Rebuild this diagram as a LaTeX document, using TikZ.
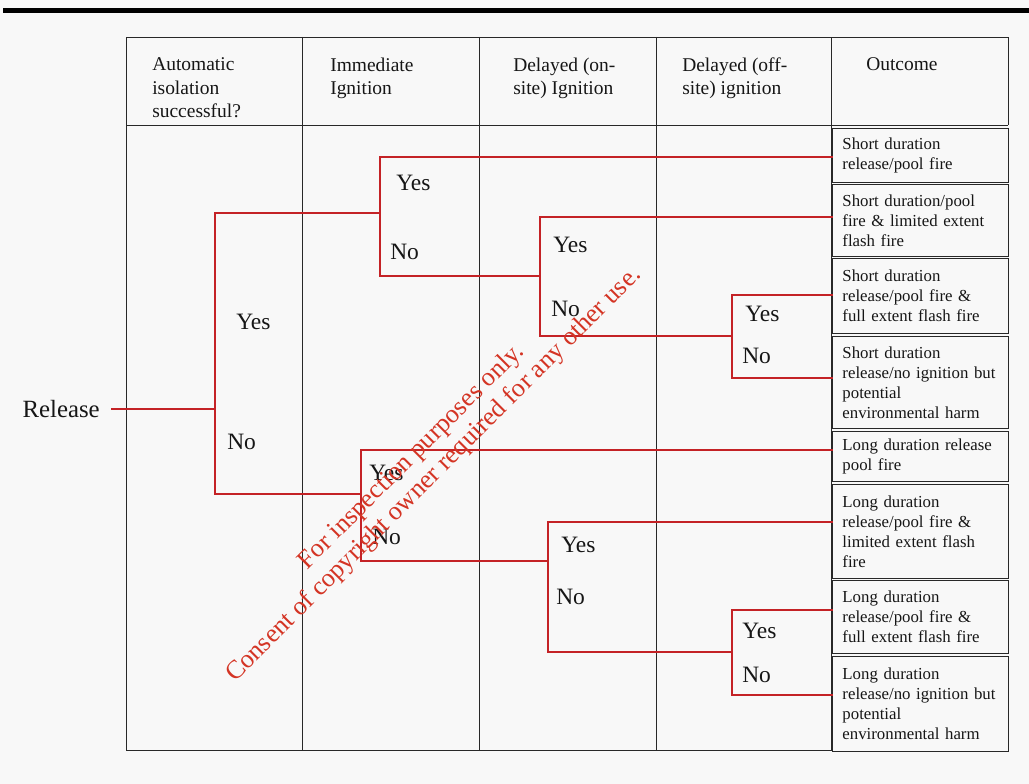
\documentclass[tikz,border=0pt]{standalone}
\usepackage{fontspec}
\setmainfont{Liberation Serif}
\definecolor{bgc}{RGB}{248,248,248}
\definecolor{treered}{RGB}{196,34,38}
\definecolor{wmred}{RGB}{212,52,36}
\definecolor{ink}{RGB}{22,22,22}
\definecolor{rule}{RGB}{40,40,40}
\newcommand\hdrfont{\fontsize{14.6}{17.6}\selectfont}
\newcommand\outfont{\fontsize{12.6}{15}\selectfont}
\newcommand\ynfont{\fontsize{17.6}{20}\selectfont}
\newcommand\wmfont{\fontsize{19.6}{21}\selectfont}
\begin{document}
\begin{tikzpicture}[x=0.75pt,y=-0.75pt,
  grid/.style={draw=rule,line width=0.7pt},
  tree/.style={draw=treered,line width=2.1pt,line join=miter,line cap=rect},
  hdr/.style={anchor=north west,inner sep=0pt,align=left,font=\hdrfont,text=ink},
  outbox/.style={draw=rule,line width=0.7pt,anchor=north west,inner xsep=7.5pt,inner ysep=0pt,
     text width=117pt,align=left,font=\outfont,text=ink},
  yn/.style={anchor=west,inner sep=0pt,font=\ynfont,text=ink},
  wm/.style={rotate=45,inner sep=0pt,font=\wmfont,text=wmred}]
\fill[bgc] (0,0) rectangle (1029,784);
\useasboundingbox (0,0) rectangle (1029,784);
% top bar
\fill[black] (3,8.5) rectangle (1029,13.5);
% table grid
\draw[grid] (126,37) rectangle (831,750);
\draw[grid] (831,37) -- (1008,37) -- (1008,125);
\draw[grid] (126,125) -- (1008,125);
\foreach \x in {302,479,656} \draw[grid] (\x,37) -- (\x,750);
% headers
\node[hdr] (h1) at (152,57.5) {Automatic\\isolation\\successful?};
\node[hdr] (h2) at (330,57.5) {Immediate\\Ignition};
\node[hdr] (h3) at (513,57.5) {Delayed (on-\\site) Ignition};
\node[hdr] (h4) at (682,57.5) {Delayed (off-\\site) ignition};
\node[hdr] (h5) at (866,57.5) {Outcome};
% outcome boxes
\node[outbox,minimum height=54*0.75pt] (o1) at (832,128) {Short duration\\release/pool fire};
\node[outbox,minimum height=72*0.75pt] (o2) at (832,184) {Short duration/pool\\fire \& limited extent\\flash fire};
\node[outbox,minimum height=75*0.75pt] (o3) at (832,258) {Short duration\\release/pool fire \&\\full extent flash fire};
\node[outbox,minimum height=92*0.75pt] (o4) at (832,336) {Short duration\\release/no ignition but\\potential\\environmental harm};
\node[outbox,minimum height=50*0.75pt] (o5) at (832,431) {Long duration release\\pool fire};
\node[outbox,minimum height=94*0.75pt] (o6) at (832,484) {Long duration\\release/pool fire \&\\limited extent flash\\fire};
\node[outbox,minimum height=73*0.75pt] (o7) at (832,580) {Long duration\\release/pool fire \&\\full extent flash fire};
\node[outbox,minimum height=95*0.75pt] (o8) at (832,656) {Long duration\\release/no ignition but\\potential\\environmental harm};
% tree coordinates
\node[anchor=east,inner sep=0pt,font=\fontsize{18.6}{20}\selectfont,text=ink] (rel) at (100,409) {Release};
\coordinate (n0) at (215,409);
\coordinate (a0) at (380,213);
\coordinate (b0) at (540,276);
\coordinate (c0) at (732,336);
\coordinate (d0) at (361,494);
\coordinate (f0) at (548,561);
\coordinate (g0) at (732,652);
\coordinate (e1) at (832,157);
\coordinate (e2) at (832,217);
\coordinate (e3) at (832,295);
\coordinate (e4) at (832,378);
\coordinate (e5) at (832,450);
\coordinate (e6) at (832,522);
\coordinate (e7) at (832,610);
\coordinate (e8) at (832,695);
% connectors
\draw[tree] ([xshift=9pt]rel.east) -- (n0);
\draw[tree] (n0) |- (a0);
\draw[tree] (n0) |- (d0);
\draw[tree] (a0) |- (e1);
\draw[tree] (a0) |- (b0);
\draw[tree] (b0) |- (e2);
\draw[tree] (b0) |- (c0);
\draw[tree] (c0) |- (e3);
\draw[tree] (c0) |- (e4);
\draw[tree] (d0) |- (e5);
\draw[tree] (d0) |- (f0);
\draw[tree] (f0) |- (e6);
\draw[tree] (f0) |- (g0);
\draw[tree] (g0) |- (e7);
\draw[tree] (g0) |- (e8);
% yes/no labels
\node[yn] (y0) at (236,322) {Yes};
\node[yn] (x0) at (227,442) {No};
\node[yn] (ya) at (396,183) {Yes};
\node[yn] (xa) at (390,252) {No};
\node[yn] (yb) at (553,245) {Yes};
\node[yn] (xb) at (551,309) {No};
\node[yn] (yc) at (745,314) {Yes};
\node[yn] (xc) at (742,356) {No};
\node[yn] (yd) at (369,473) {Yes};
\node[yn] (xd) at (372,537) {No};
\node[yn] (ye) at (561,545) {Yes};
\node[yn] (xe) at (556,597) {No};
\node[yn] (yf) at (742,631) {Yes};
\node[yn] (xf) at (742,675) {No};
% watermark
\node[wm] (w1) at (412,457) {For inspection purposes only.};
\node[wm] (w2) at (434,475) {Consent of copyright owner required for any other use.};
\end{tikzpicture}
\end{document}
